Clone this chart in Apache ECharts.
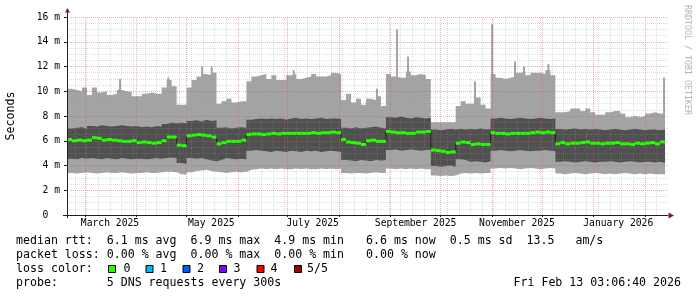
<!DOCTYPE html>
<html><head><meta charset="utf-8">
<script src="https://cdn.jsdelivr.net/npm/echarts@6/dist/echarts.min.js"></script>
<style>html,body{margin:0;padding:0;background:#fff;}#c{width:697px;height:297px;}</style>
</head><body><div id="c"></div>
<script>
const DAY = 86400000;
const START = Date.UTC(2025,1,18,3,6,40);
const END = Date.UTC(2026,1,13,3,6,40);
const BIN_DAYS = 3;

// smoke envelope per 3-day bin (ms)
const maxMs = [10.2,10.1,10.0,10.3,9.7,10.3,9.9,10.0,9.7,9.8,
 10.1,10.0,9.95,9.6,9.6,9.8,9.9,9.8,9.8,10.3,
 10.9,10.4,8.9,8.9,10.3,10.9,11.2,11.4,11.3,11.5,
 9.0,9.2,9.4,9.1,9.2,9.2,10.8,11.2,11.3,11.4,
 11.0,11.3,10.9,10.9,11.3,11.4,11.0,11.1,11.2,11.4,
 11.2,11.2,11.3,11.5,11.4,9.3,9.8,9.1,9.4,8.9,
 9.4,9.3,9.6,8.8,11.4,11.2,11.1,11.1,11.6,11.3,
 11.4,11.3,11.0,7.5,7.5,7.5,7.5,7.5,8.8,9.2,
 9.0,9.0,9.5,8.9,8.6,11.4,11.1,11.0,11.1,11.2,
 11.5,11.6,11.3,11.5,11.5,11.4,11.7,11.3,8.3,8.3,
 8.4,8.6,8.6,8.4,8.6,8.3,8.1,8.1,8.3,8.4,
 8.4,8.2,7.9,8.0,7.9,8.0,8.2,8.3,8.2,8.2];
const upperMs = [7.0,7.05,7.1,7.0,7.2,7.15,7.25,7.2,7.15,7.2,
 7.25,7.2,7.15,7.2,7.1,7.15,7.1,7.2,7.15,7.35,
 7.45,7.4,7.45,7.4,7.6,7.65,7.55,7.7,7.6,7.65,
 7.05,7.1,7.0,7.05,7.1,7.05,7.7,7.75,7.8,7.75,
 7.8,7.75,7.8,7.7,7.8,7.85,7.75,7.8,7.75,7.8,
 7.85,7.75,7.8,7.8,7.75,7.05,7.0,7.1,7.0,7.05,
 7.1,7.15,7.05,7.0,7.9,7.85,7.95,7.85,7.8,7.9,
 7.85,7.8,7.85,6.9,6.85,6.9,6.95,6.9,6.95,6.9,
 6.95,6.9,7.0,6.9,6.95,7.8,7.85,7.8,7.75,7.8,
 7.85,7.8,7.75,7.8,7.85,7.8,7.75,7.8,6.95,6.9,
 6.95,7.0,6.9,6.95,6.9,6.95,6.9,6.85,6.9,6.95,
 6.9,6.85,6.9,6.95,6.9,6.85,6.9,6.9,6.85,6.9];
const lowerMs = [4.55,4.5,4.6,4.55,4.6,4.55,4.5,4.6,4.55,4.5,
 4.6,4.55,4.5,4.55,4.55,4.5,4.55,4.6,4.55,4.6,
 4.65,4.6,4.2,4.15,4.6,4.55,4.6,4.5,4.4,4.35,
 4.45,4.6,4.55,4.5,4.55,4.5,5.2,5.25,5.2,5.15,
 5.1,5.2,5.15,5.1,5.2,5.15,5.1,5.2,5.15,5.2,
 5.1,5.15,5.2,5.15,5.1,4.45,4.4,4.35,4.45,4.4,
 4.35,4.45,4.4,4.45,5.25,5.3,5.2,5.25,5.3,5.25,
 5.2,5.25,5.3,3.95,3.9,3.95,4.0,3.9,4.5,4.45,
 4.3,4.35,4.3,4.25,4.35,5.2,5.25,5.2,5.15,5.2,
 5.25,5.2,5.15,5.2,5.2,5.25,5.2,5.15,4.3,4.35,
 4.3,4.25,4.3,4.35,4.3,4.25,4.3,4.3,4.35,4.3,
 4.25,4.3,4.35,4.3,4.25,4.3,4.3,4.25,4.3,4.2];
const minMs = [3.4,3.35,3.4,3.45,3.4,3.35,3.4,3.45,3.4,3.4,
 3.45,3.4,3.35,3.4,3.4,3.45,3.4,3.4,3.45,3.5,
 3.5,3.45,3.3,3.25,3.45,3.55,3.6,3.65,3.55,3.5,
 3.45,3.4,3.45,3.5,3.45,3.5,3.65,3.7,3.75,3.7,
 3.75,3.7,3.75,3.7,3.7,3.75,3.7,3.75,3.7,3.7,
 3.75,3.7,3.75,3.7,3.75,3.4,3.35,3.4,3.4,3.35,
 3.4,3.45,3.4,3.4,3.75,3.7,3.75,3.7,3.75,3.7,
 3.75,3.7,3.7,3.2,3.15,3.2,3.15,3.2,3.35,3.4,
 3.35,3.4,3.35,3.4,3.4,3.75,3.8,3.75,3.8,3.75,
 3.7,3.75,3.8,3.75,3.7,3.75,3.8,3.75,3.35,3.3,
 3.35,3.4,3.35,3.3,3.35,3.4,3.35,3.3,3.35,3.3,
 3.35,3.4,3.35,3.3,3.35,3.3,3.35,3.3,3.3,3.3];
const medianMs = [6.1,6.0,6.05,6.0,6.05,6.25,6.2,6.05,6.1,6.05,
 6.0,5.95,5.95,6.0,5.85,5.9,5.85,5.8,5.85,6.0,
 6.3,6.3,5.65,5.6,6.4,6.45,6.5,6.45,6.4,6.3,
 5.75,5.85,5.95,5.95,5.95,6.05,6.5,6.55,6.55,6.5,
 6.55,6.6,6.55,6.6,6.6,6.6,6.6,6.6,6.6,6.65,
 6.6,6.65,6.65,6.7,6.65,6.1,5.9,5.85,5.8,5.7,
 6.0,6.05,5.95,5.95,6.75,6.7,6.65,6.65,6.6,6.6,
 6.7,6.7,6.75,5.25,5.2,5.15,5.05,5.1,5.8,5.9,
 5.85,5.7,5.75,5.7,5.7,6.65,6.6,6.6,6.55,6.6,
 6.6,6.6,6.6,6.65,6.7,6.65,6.7,6.65,5.75,5.85,
 5.75,5.8,5.8,5.85,5.9,5.8,5.8,5.75,5.8,5.8,
 5.85,5.75,5.75,5.7,5.8,5.75,5.8,5.85,5.75,5.9];
// narrow peaks of the max envelope (days after START, ms)
const spikeDays = [31.9,61.0,81.3,87.1,136.5,186.6,198.7,205.3,245.6,255.9,269.7,275.1,289.8,359.4];
const spikeMs   = [11.0,11.1,12.0,12.0,11.7,10.2,15.0,12.8,10.8,15.4,12.4,12.0,12.2,11.1];

const monthGrid = ['2025-03-01','2025-04-01','2025-05-01','2025-06-01','2025-07-01','2025-08-01','2025-09-01','2025-10-01','2025-11-01','2025-12-01','2026-01-01','2026-02-01'];
const labelMonths = ['2025-03-16','2025-05-16','2025-07-16','2025-09-16','2025-11-16','2026-01-16'];
const labelTexts = ['March 2025','May 2025','July 2025','September 2025','November 2025','January 2026'];

const ts = s => Date.parse(s + 'T00:00:00Z');
const monthTs = monthGrid.map(ts);
const labelTs = labelMonths.map(ts);
const binT = i => START + i * BIN_DAYS * DAY;
function stepData(arr){ const d = arr.map((v,i)=>[binT(i), v]); d.push([binT(arr.length), arr[arr.length-1]]); return d; }

const LIGHT = '#a4a4a4', DARK = '#505050';
const MONO = '"DejaVu Sans Mono"';
const minorStyle = {color:'rgba(150,150,150,0.32)', width:1, type:[1,1]};
const majorStyle = {color:'rgba(222,79,79,0.45)', width:1, type:[1,1]};

const gridLines = [];
for (let t = Date.UTC(2025,1,23); t < END; t += 7*DAY) {
  if (monthTs.indexOf(t) < 0) gridLines.push({xAxis: t, lineStyle: minorStyle});
}
monthTs.forEach(t => gridLines.push({xAxis: t, lineStyle: majorStyle}));
for (let k = 1; k <= 32; k++) {
  const v = k * 0.5;
  gridLines.push({yAxis: v, lineStyle: (k % 4 === 0) ? majorStyle : minorStyle});
}

function area(name, arr, color){
  return {type:'line', name, data: stepData(arr), step:'end', symbol:'none', silent:true,
    lineStyle:{width:1, opacity:0}, areaStyle:{color, opacity:1}, z:2};
}

const chart = echarts.init(document.getElementById('c'), null, {renderer:'canvas', devicePixelRatio:1});
chart.setOption({
  animation:false,
  backgroundColor:'#ffffff',
  grid:{left:67, top:17, width:601, height:198, containLabel:false, outerBoundsMode:'none'},
  xAxis:{type:'value', min:START, max:END + 1.8*DAY, z:10,
    axisLine:{lineStyle:{color:'#1f1f1f', width:1}},
    axisTick:{show:true, customValues: monthTs, length:2, lineStyle:{color:'#1f1f1f'}},
    splitLine:{show:false},
    axisLabel:{customValues: labelTs, margin:3, fontFamily:MONO, fontSize:9.7, color:'#000',
      formatter: v => { const i = labelTs.indexOf(v); return i >= 0 ? labelTexts[i] : ''; }}},
  yAxis:{type:'value', min:0, max:16, interval:2, z:10,
    name:'Seconds', nameLocation:'middle', nameGap:50,
    nameTextStyle:{fontFamily:MONO, fontSize:11.6, color:'#000'},
    axisLine:{show:true, lineStyle:{color:'#1f1f1f', width:1}},
    axisTick:{show:true, length:3, lineStyle:{color:'#1f1f1f'}},
    splitLine:{show:false},
    axisLabel:{margin:7, fontFamily:MONO, fontSize:9.7, color:'#000',
      formatter: v => v === 0 ? '0  ' : (v + ' m')}},
  series:[
    area('max', maxMs, LIGHT),
    {type:'custom', name:'peaks', silent:true, z:2,
      data: spikeDays.map((d,i)=>[START + d*DAY, spikeMs[i]]),
      encode:{x:0, y:1},
      renderItem:(params, api)=>{
        const top = api.coord([api.value(0), api.value(1)]);
        const bot = api.coord([api.value(0), 0]);
        return {type:'rect', shape:{x:top[0]-1, y:top[1], width:2, height:bot[1]-top[1]}, style:{fill:LIGHT}};
      }},
    area('upper', upperMs, DARK),
    area('lower', lowerMs, LIGHT),
    area('min', minMs, '#ffffff'),
    {type:'line', name:'grid', data:[], silent:true,
      markLine:{silent:true, symbol:['none','none'], label:{show:false}, animation:false, z:5, data: gridLines}},
    {type:'line', name:'median', data: stepData(medianMs), step:'end', symbol:'none', silent:true, z:6,
      lineStyle:{color:'#202020', width:1}},
    {type:'custom', name:'median loss', silent:true, z:7,
      data: medianMs.map((v,i)=>[binT(i), binT(i+1), v]),
      encode:{x:[0,1], y:2},
      renderItem:(params, api)=>{
        const a = api.coord([api.value(0), api.value(2)]);
        const b = api.coord([api.value(1), api.value(2)]);
        return {type:'rect', shape:{x:a[0], y:a[1]-1.5, width:b[0]-a[0], height:3}, style:{fill:'#26ff00'}};
      }}
  ],
  graphic:[
    {type:'line', shape:{x1:67.5, y1:17, x2:67.5, y2:12}, style:{stroke:'#1f1f1f', lineWidth:1}, z:20},
    {type:'line', shape:{x1:67.5, y1:215, x2:67.5, y2:218}, style:{stroke:'#1f1f1f', lineWidth:1}, z:20},
    {type:'line', shape:{x1:63, y1:215.5, x2:67, y2:215.5}, style:{stroke:'#1f1f1f', lineWidth:1}, z:20},
    {type:'polygon', shape:{points:[[65,12.5],[70,12.5],[67.5,8]]}, style:{fill:'#801f1f'}, z:20},
    {type:'polygon', shape:{points:[[668.5,212.5],[668.5,218.5],[674,215.5]]}, style:{fill:'#801f1f'}, z:20},
    {type:'text', x:687.5, y:60, rotation:-Math.PI/2, z:20,
      style:{text:'RRDTOOL / TOBI OETIKER', fill:'#b4b4b4', font:'8.3px ' + MONO, align:'center', verticalAlign:'middle', textAlign:'center', textVerticalAlign:'middle'}},
    ...[
      ['median rtt:  6.1 ms avg  6.9 ms max  4.9 ms min', 16, 241, 'left'],
      ['6.6 ms now  0.5 ms sd  13.5   am/s', 366, 241, 'left'],
      ['packet loss: 0.00 % avg  0.00 % max  0.00 % min', 16, 255, 'left'],
      ['0.00 % now', 366, 255, 'left'],
      ['loss color:', 16, 269, 'left'],
      ['0', 123.5, 269, 'left'], ['1', 160, 269, 'left'], ['2', 197, 269, 'left'],
      ['3', 233.5, 269, 'left'], ['4', 270.5, 269, 'left'], ['5/5', 307, 269, 'left'],
      ['probe:       5 DNS requests every 300s', 16, 283, 'left'],
      ['Fri Feb 13 03:06:40 2026', 681, 283, 'right']
    ].map(([t,x,y,al]) => ({type:'text', x, y, z:20,
      style:{text:t, fill:'#000', font:'11.6px ' + MONO, align:al, textAlign:al, verticalAlign:'middle', textVerticalAlign:'middle'}})),
    ...[['#26ff00',108.5],['#00b8ff',146],['#0059ff',183],['#7e00ff',219.5],['#ff0000',257],['#a10000',294.5]]
      .map(([c,x]) => ({type:'rect', z:20, shape:{x, y:265.5, width:7, height:7}, style:{fill:c, stroke:'#000', lineWidth:1}}))
  ]
});
</script></body></html>
